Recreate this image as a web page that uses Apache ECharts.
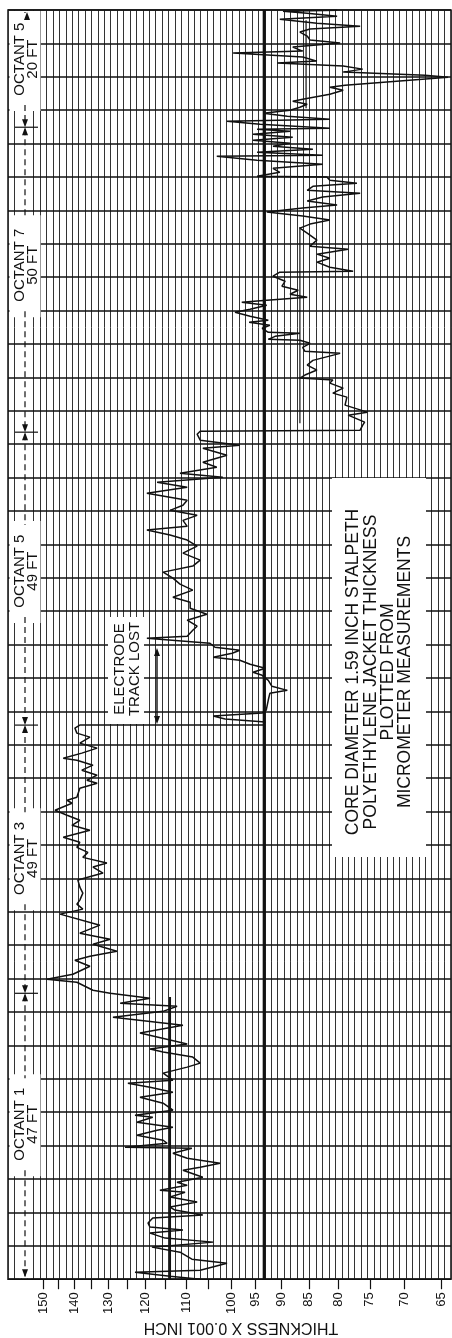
<!DOCTYPE html>
<html>
<head>
<meta charset="utf-8">
<title>Polyethylene jacket thickness</title>
<script src="https://cdn.jsdelivr.net/npm/echarts@6/dist/echarts.min.js"></script>
<style>
  html, body { margin: 0; padding: 0; background: #fff; }
  #chart { width: 452px; height: 1338px; }
</style>
</head>
<body>
<div id="chart"></div>
<script>
// Jacket thickness (x 0.001 inch) along the cable, one array per octant.
// Each entry: [position along the cable in chart divisions, thickness].
const octant1 = [
  [0, 106.8], [0.09, 113.9], [0.21, 122.8], [0.27, 106.8], [0.48, 100.9], [0.60, 108.7],
  [0.81, 111.5], [0.96, 118.4], [1.11, 103.9], [1.23, 115.1], [1.38, 118.9], [1.47, 110.8],
  [1.56, 118.9], [1.68, 119.4], [1.83, 118.2], [1.92, 106.2], [2.07, 112.7], [2.16, 113.9],
  [2.31, 107.5], [2.46, 113.9], [2.60, 110.3], [2.66, 116.4], [2.81, 109.8], [2.90, 112.2],
  [3.05, 106.2], [3.26, 110.8], [3.35, 106.8], [3.47, 102.4], [3.62, 109.8], [3.77, 113.2],
  [3.92, 108.7], [3.95, 125.5], [4.07, 114.6], [4.16, 115.6], [4.31, 122.3], [4.46, 117.1],
  [4.55, 113.2], [4.70, 122.3], [4.85, 118.2], [4.91, 122.8], [5.06, 113.2], [5.27, 115.6],
  [5.45, 121.5], [5.60, 113.2], [5.75, 118.9], [5.87, 124.7], [5.96, 113.2], [6.17, 115.6],
  [6.35, 109.8], [6.47, 106.8], [6.65, 108.5], [6.80, 115.6], [6.89, 118.9], [7.04, 109.8],
  [7.37, 121.5], [7.60, 110.8], [7.84, 128.8], [8.02, 115.6], [8.17, 112.2], [8.26, 126.8],
  [8.41, 118.9], [8.56, 129.6]
];
const octant3 = [
  [8.65, 134.5], [8.89, 139.3], [8.98, 148.7], [9.13, 140.5], [9.37, 135.4], [9.55, 139.9],
  [9.67, 135.4], [9.82, 127.7], [10.03, 134.5], [10.18, 129.6], [10.36, 138.4], [10.60, 132.5],
  [10.93, 144.5], [11.08, 137.5], [11.23, 139.3], [11.35, 138.4], [11.56, 137.5], [11.74, 138.4],
  [11.95, 139.0], [12.16, 131.6], [12.34, 134.5], [12.46, 130.5], [12.63, 137.5], [12.78, 136.0],
  [12.93, 139.3], [13.08, 138.4], [13.23, 143.5], [13.44, 135.4], [13.59, 140.8], [13.74, 138.4],
  [13.89, 142.3], [14.04, 146.1], [14.25, 140.8], [14.34, 142.3], [14.43, 139.3], [14.70, 138.4],
  [14.85, 133.3], [14.94, 136.3], [15.09, 133.3], [15.24, 137.8], [15.39, 134.5], [15.54, 139.3],
  [15.60, 143.5], [15.75, 137.8], [15.90, 133.3], [16.05, 138.4], [16.23, 135.4], [16.35, 139.3],
  [16.50, 139.9], [16.59, 138.4]
];
const octant5 = [
  [16.59, 93.5], [16.68, 93.1], [16.77, 101.3], [16.86, 103.9], [16.95, 93.7], [17.04, 92.9],
  [17.34, 92.5], [17.54, 92.2], [17.63, 88.9], [17.75, 91.8], [17.93, 92.5], [18.08, 93.7],
  [18.17, 95.5], [18.29, 93.1], [18.41, 96.1], [18.53, 98.2], [18.62, 103.9], [18.74, 99.8],
  [18.83, 98.2], [18.92, 103.5], [19.04, 104.6], [19.19, 119.7], [19.25, 109.8], [19.43, 108.5],
  [19.55, 107.5], [19.73, 109.8], [19.91, 105.3], [20.09, 109.1], [20.27, 109.1], [20.42, 113.2],
  [20.63, 108.5], [20.81, 111.5], [20.99, 113.2], [21.17, 115.6], [21.35, 108.5], [21.53, 106.8],
  [21.74, 110.8], [21.95, 107.5], [22.13, 109.8], [22.28, 113.9], [22.43, 119.7], [22.54, 109.8],
  [22.72, 110.8], [22.87, 107.5], [23.02, 113.9], [23.17, 110.8], [23.32, 109.8], [23.53, 119.7],
  [23.71, 109.8], [23.86, 117.1], [24.01, 101.8], [24.13, 111.5], [24.31, 103.1], [24.46, 106.2],
  [24.67, 100.9], [24.88, 106.2], [24.97, 98.2], [25.12, 106.8], [25.30, 107.5], [25.39, 106.8]
];
const octant7 = [
  [25.42, 76.5], [25.57, 76.1], [25.66, 75.8], [25.87, 78.4], [25.96, 75.4], [26.17, 78.9],
  [26.41, 78.6], [26.53, 80.9], [26.68, 79.2], [26.83, 81.4], [26.92, 80.9], [26.98, 86.6],
  [27.07, 85.7], [27.22, 83.6], [27.37, 85.3], [27.51, 84.3], [27.72, 79.7], [27.78, 85.7],
  [27.90, 86.1], [28.02, 84.8], [28.11, 86.6], [28.14, 92.5], [28.23, 91.2], [28.32, 86.6],
  [28.35, 92.5], [28.47, 93.7], [28.56, 92.2], [28.65, 96.3], [28.71, 92.5], [28.83, 96.1],
  [28.95, 99.2], [29.04, 96.1], [29.16, 92.8], [29.25, 97.8], [29.31, 92.8], [29.40, 85.3],
  [29.49, 88.4], [29.61, 86.9], [29.73, 89.9], [29.88, 89.3], [30.03, 91.6], [30.15, 90.3],
  [30.18, 77.6], [30.30, 81.4], [30.45, 83.6], [30.57, 81.4], [30.69, 83.6], [30.84, 78.4],
  [30.93, 84.8], [31.11, 83.6], [31.32, 85.3], [31.47, 86.6], [31.59, 84.8], [31.71, 81.4],
  [31.83, 86.1], [31.95, 92.8], [32.07, 86.1], [32.16, 80.2], [32.28, 85.3], [32.40, 82.6],
  [32.51, 76.5], [32.60, 85.3], [32.72, 84.3], [32.81, 77.0], [32.90, 81.4], [33.00, 81.9],
  [33.02, 94.7], [33.14, 90.3], [33.26, 91.6], [33.38, 82.6], [33.50, 94.7], [33.62, 103.1],
  [33.65, 82.6], [33.74, 94.7], [33.83, 84.3], [33.92, 91.6], [34.01, 88.4], [34.10, 95.5],
  [34.19, 87.9], [34.28, 95.5], [34.37, 88.4]
];
const octant5Short = [
  [34.43, 94.7], [34.46, 81.4], [34.58, 94.1], [34.67, 100.9], [34.73, 81.4], [34.82, 88.9],
  [34.91, 93.5], [35.00, 88.4], [35.09, 86.6], [35.18, 85.3], [35.27, 87.9], [35.33, 86.1],
  [35.48, 81.4], [35.60, 79.2], [35.69, 81.4], [35.75, 78.9], [35.99, 64.1], [36.05, 67.1],
  [36.14, 79.2], [36.23, 76.1], [36.32, 79.2], [36.41, 90.8], [36.47, 83.6], [36.59, 86.1],
  [36.71, 99.6], [36.77, 86.1], [36.89, 87.9], [37.01, 79.7], [37.10, 84.8], [37.22, 85.3],
  [37.34, 86.6], [37.43, 84.8], [37.51, 76.5], [37.60, 83.6], [37.72, 90.3], [37.81, 80.2],
  [37.90, 85.3], [37.96, 89.7], [37.99, 80.2]
];

// Reference thickness lines: [thickness, from position, to position, stroke width]
const nominalLine = [93.3, 0, 38, 3];
const octantMeanLines = [
  [113.9, 0, 8.45, 2],
  [86.6, 25.63, 31.5, 1.2],
  [85.5, 35.06, 37.69, 1.2]
];

// Octant spans along the cable (chart divisions) and their labels
const octantBounds = [0, 8.56, 16.59, 25.36, 34.49, 38];
const octantNames = ['OCTANT 1', 'OCTANT 3', 'OCTANT 5', 'OCTANT 7', 'OCTANT 5'];
const octantLengths = ['47 FT', '49 FT', '49 FT', '50 FT', '20 FT'];
const octantLabelAt = [4.64, 12.6, 21.2, 30.36, 36.53];

// Thickness scale ticks
const thicknessTicks = [150, 145, 140, 135, 130, 125, 120, 115, 110, 105, 100, 95, 90, 85, 80, 75, 70, 65];
const thicknessLabels = [150, 140, 130, 120, 110, 100, 95, 90, 85, 80, 75, 70, 65];

const notes = ['CORE DIAMETER 1.59 INCH STALPETH', 'POLYETHYLENE JACKET THICKNESS', 'PLOTTED FROM', 'MICROMETER MEASUREMENTS'];
const trackNote = ['ELECTRODE', 'TRACK LOST'];
const axisTitle = 'THICKNESS X 0.001 INCH';

// ---- chart paper ----
const COLS = 69, ROWS = 38;
const COL_W = 6.42, ROW_H = 33.4;
const GRID_LEFT = 8, GRID_TOP = 10;
const GRID_W = COLS * COL_W, GRID_H = ROWS * ROW_H;

// The thickness scale printed on the paper is logarithmic in (t - 10):
// 150 falls on paper column 5.45 and 65 on column 67.45.
const SCALE = { t0: 150, c0: 5.45, t1: 65, c1: 67.45, offset: 10 };
function toPaper(t) {
  const a = SCALE.t0 - SCALE.offset, b = SCALE.t1 - SCALE.offset;
  return SCALE.c0 + (SCALE.c1 - SCALE.c0) * Math.log(a / (t - SCALE.offset)) / Math.log(a / b);
}
const py = p => GRID_TOP + (ROWS - p) * ROW_H;

const FONT = '"Liberation Sans", Arial, sans-serif';
const INK = '#111';

const traceData = [].concat(octant1, octant3, octant5, octant7, octant5Short)
  .map(([p, t]) => [toPaper(t), p]);

function vline(t, from, to, width) {
  return {
    type: 'line', xAxisIndex: 0, yAxisIndex: 0, silent: true, symbol: 'none',
    data: [[toPaper(t), from], [toPaper(t), to]],
    lineStyle: { color: INK, width: width }, z: 3
  };
}

// ---- annotations ----
const graphics = [];
const DIM_X = 25;
// blank strip behind the octant dimension line
graphics.push({ type: 'rect', z: 1, silent: true,
  shape: { x: 19, y: GRID_TOP + 1, width: 12, height: GRID_H - 2 }, style: { fill: '#fff' } });

function text(str, x, y, rot, size) {
  return { type: 'text', x: x, y: y, rotation: rot, z: 7, silent: true,
    style: { text: str, fill: INK, font: size + 'px ' + FONT, align: 'center', verticalAlign: 'middle' } };
}
function tri(x, tipY, dir) {
  // dir = +1 points down, -1 points up
  return { type: 'polygon', z: 7, silent: true,
    shape: { points: [[x, tipY], [x - 3, tipY - dir * 8], [x + 3, tipY - dir * 8]] },
    style: { fill: INK } };
}
function seg(x1, y1, x2, y2, w, dash) {
  return { type: 'line', z: 6, silent: true,
    shape: { x1: x1, y1: y1, x2: x2, y2: y2 },
    style: { stroke: INK, lineWidth: w, lineDash: dash || null } };
}

octantNames.forEach((name, i) => {
  const yLow = py(octantBounds[i]);       // lower end on screen
  const yHigh = py(octantBounds[i + 1]);  // upper end on screen
  const yc = py(octantLabelAt[i]);
  const boxTop = Math.max(yc - 50, GRID_TOP + 1);
  graphics.push({ type: 'rect', z: 5, silent: true,
    shape: { x: 9.5, y: boxTop, width: 31, height: yc + 52 - boxTop }, style: { fill: '#fff' } });
  graphics.push(text(name, 20, yc, Math.PI / 2, 15));
  graphics.push(text(octantLengths[i], 33, yc, Math.PI / 2, 15));
  if (yLow > yc + 46) graphics.push(seg(DIM_X, yc + 46, DIM_X, yLow - 2, 1.2, [6, 4]));
  if (yHigh < yc - 46) graphics.push(seg(DIM_X, yHigh + 2, DIM_X, yc - 46, 1.2, [6, 4]));
});
// end arrows and octant boundary marks
graphics.push(tri(DIM_X, py(octantBounds[0]) - 2, 1));
graphics.push(tri(DIM_X + 2, py(octantBounds[octantBounds.length - 1]) + 2, -1));
octantBounds.slice(1, -1).forEach(b => {
  const y = py(b);
  graphics.push(seg(15, y, 38, y, 1.2));
  graphics.push(tri(DIM_X, y, 1));
  graphics.push(tri(DIM_X, y, -1));
});

// electrode note
graphics.push({ type: 'rect', z: 5, silent: true, shape: { x: 108, y: 617, width: 36, height: 107 }, style: { fill: '#fff' } });
graphics.push(text(trackNote[0], 120, 669, Math.PI / 2, 15));
graphics.push(text(trackNote[1], 135, 669, Math.PI / 2, 15));
graphics.push(seg(157, 652, 157, 721, 1.4));
graphics.push(tri(157, 648, -1));
graphics.push(tri(157, 724, 1));

// title block
graphics.push({ type: 'rect', z: 5, silent: true, shape: { x: 332, y: 478, width: 94, height: 379 }, style: { fill: '#fff' } });
[353, 371, 388, 405].forEach((x, i) => graphics.push(text(notes[i], x, 672, Math.PI / 2, 17.5)));

// axis title under the thickness scale
graphics.push(text(axisTitle, 241, 1327, Math.PI, 16));

const chart = echarts.init(document.getElementById('chart'), null, { renderer: 'canvas' });
chart.setOption({
  animation: false,
  backgroundColor: '#fff',
  grid: { left: GRID_LEFT, top: GRID_TOP, width: GRID_W, height: GRID_H,
          show: true, borderColor: INK, borderWidth: 1.5, backgroundColor: 'transparent' },
  xAxis: [
    { type: 'value', min: 0, max: COLS, interval: 1, z: 0,
      axisLine: { show: false }, axisTick: { show: false }, axisLabel: { show: false },
      splitLine: { show: true, lineStyle: { color: '#333', width: 1 } } },
    { type: 'value', min: 0, max: COLS, position: 'bottom', z: 0,
      axisLine: { show: false },
      axisTick: { show: true, customValues: thicknessTicks.map(toPaper), length: 10,
                  lineStyle: { color: INK, width: 1.2 } },
      axisLabel: { show: true, customValues: thicknessLabels.map(toPaper), rotate: 90, margin: 13,
                   color: INK, fontSize: 13, fontFamily: FONT,
                   formatter: v => {
                     let best = thicknessLabels[0];
                     thicknessLabels.forEach(t => { if (Math.abs(toPaper(t) - v) < Math.abs(toPaper(best) - v)) best = t; });
                     return String(best);
                   } },
      splitLine: { show: false } }
  ],
  yAxis: { type: 'value', min: 0, max: ROWS, interval: 1, z: 2,
    axisLine: { show: false }, axisTick: { show: false }, axisLabel: { show: false },
    splitLine: { show: true, lineStyle: { color: INK, width: 1.6 } } },
  series: [
    { type: 'line', name: 'Thickness', xAxisIndex: 0, yAxisIndex: 0, data: traceData,
      symbol: 'none', silent: true, lineStyle: { color: INK, width: 1.5 }, z: 4 },
    vline(nominalLine[0], nominalLine[1], nominalLine[2], nominalLine[3]),
    ...octantMeanLines.map(m => vline(m[0], m[1], m[2], m[3]))
  ],
  graphic: { elements: graphics }
});
</script>
</body>
</html>
